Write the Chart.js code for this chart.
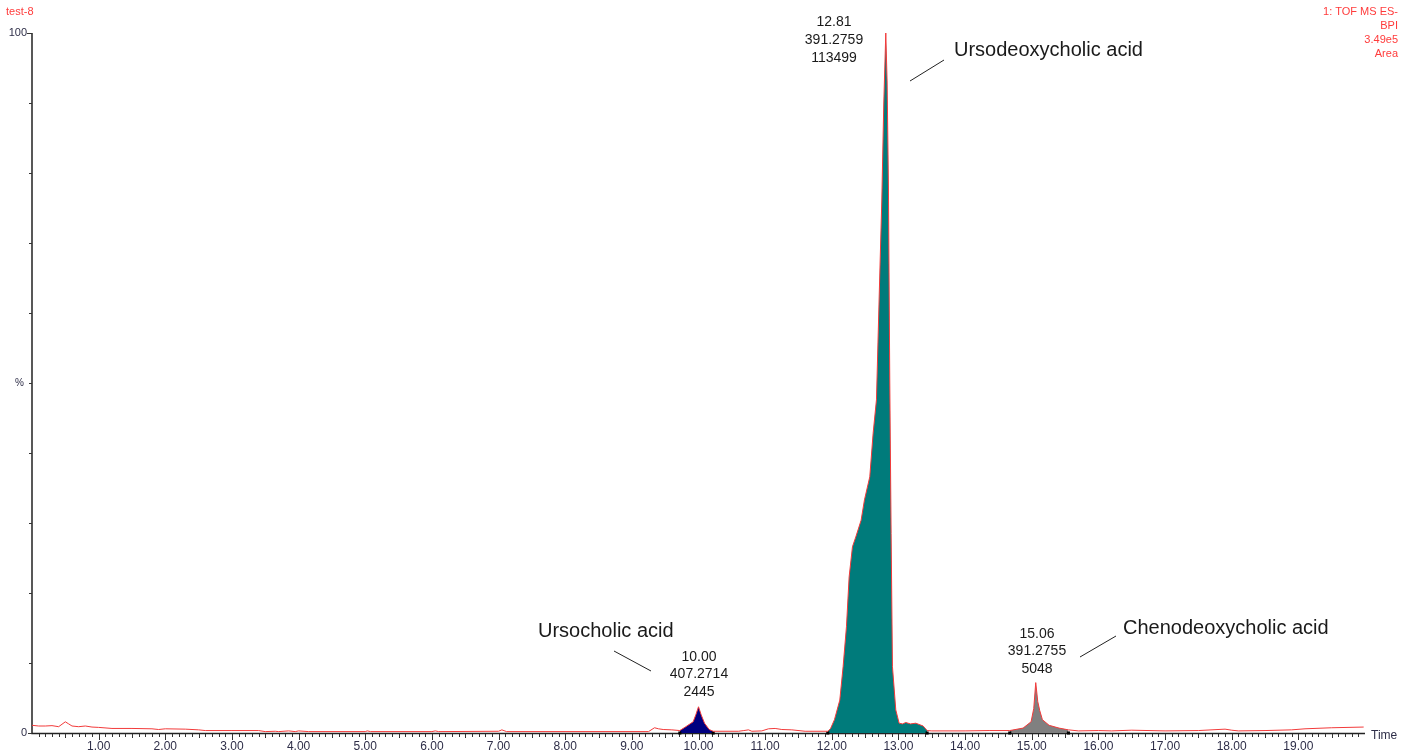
<!DOCTYPE html>
<html>
<head>
<meta charset="utf-8">
<script src="https://cdn.jsdelivr.net/npm/chart.js@4.4.0/dist/chart.umd.min.js"></script>
<style>
html,body{margin:0;padding:0;background:#fff;}
#wrap{width:1411px;height:755px;position:relative;}
</style>
</head>
<body>
<div id="wrap"><canvas id="c" width="1411" height="755"></canvas></div>
<script>
// ---- data (time in minutes, intensity in %) ----
const traceTime = [0.00,0.10,0.20,0.30,0.40,0.50,0.55,0.60,0.70,0.80,0.90,1.00,1.20,1.50,1.80,1.90,2.00,2.30,2.50,2.60,3.00,3.40,3.50,3.65,3.70,3.85,3.95,4.00,4.15,5.00,5.03,5.08,6.00,6.05,6.10,7.00,7.05,7.12,9.25,9.34,9.40,9.47,9.60,9.72,9.81,9.92,9.96,10.00,10.04,10.09,10.16,10.22,10.60,10.68,10.75,10.80,10.95,11.05,11.15,11.25,11.40,11.60,11.94,11.98,12.04,12.12,12.17,12.22,12.26,12.31,12.36,12.44,12.49,12.57,12.62,12.67,12.71,12.75,12.78,12.81,12.83,12.85,12.87,12.89,12.91,12.96,13.01,13.06,13.11,13.18,13.26,13.37,13.43,13.50,14.00,14.36,14.67,14.87,14.99,15.03,15.06,15.09,15.12,15.16,15.26,15.41,15.55,15.70,16.00,16.20,16.50,17.00,17.50,17.90,18.00,18.10,18.50,18.90,19.10,19.50,19.98];
const traceIntensity = [1.1,1.0,1.0,1.05,0.9,1.6,1.3,1.0,0.9,1.0,0.85,0.8,0.65,0.65,0.6,0.5,0.6,0.55,0.45,0.35,0.35,0.35,0.2,0.25,0.2,0.3,0.2,0.3,0.2,0.2,0.3,0.2,0.2,0.3,0.2,0.25,0.45,0.2,0.2,0.75,0.6,0.5,0.45,0.35,0.9,1.6,2.6,3.75,2.6,1.4,0.5,0.25,0.25,0.35,0.45,0.25,0.3,0.6,0.65,0.5,0.45,0.25,0.25,0.6,1.9,4.7,9.5,15.2,22.3,26.6,28.0,30.4,33.3,36.6,42.8,47.6,62.0,76.0,90.0,100.0,93.0,78.0,50.0,28.5,9.5,3.3,1.4,1.3,1.5,1.3,1.4,1.0,0.35,0.3,0.3,0.35,0.35,0.7,1.6,3.5,7.2,4.5,3.2,1.9,1.1,0.7,0.45,0.3,0.35,0.3,0.4,0.3,0.35,0.55,0.4,0.3,0.35,0.45,0.6,0.75,0.85];

const peakNames = ['Ursocholic acid','Ursodeoxycholic acid','Chenodeoxycholic acid'];
const peakRT = ['10.00','12.81','15.06'];
const peakMass = ['407.2714','391.2759','391.2755'];
const peakArea = ['2445','113499','5048'];
const peakStart = [9.72,11.94,14.67];
const peakEnd = [10.22,13.43,15.55];
const peakColors = ['#000080','#007b7b','#808080'];

const xTickLabels = ['1.00','2.00','3.00','4.00','5.00','6.00','7.00','8.00','9.00','10.00','11.00','12.00','13.00','14.00','15.00','16.00','17.00','18.00','19.00'];
const yTickLabels = ['0','100'];

// ---- build datasets ----
const tracePts = traceTime.map((t,i)=>({x:t,y:traceIntensity[i]}));
const datasets = [{
  data: tracePts, borderColor:'#f23a3a', borderWidth:1, pointRadius:0, fill:false, tension:0, clip:false
}];
const markerPts = [];
peakStart.forEach((s,k)=>{
  const e = peakEnd[k];
  const pts = tracePts.filter(p=>p.x>=s-1e-6 && p.x<=e+1e-6);
  datasets.push({data:pts, borderWidth:0, borderColor:'rgba(0,0,0,0)', backgroundColor:peakColors[k], fill:'origin', pointRadius:0, tension:0, clip:false});
  markerPts.push({x:s,y:0},{x:e,y:0});
});
datasets.splice(1,0,{data:markerPts, showLine:false, pointStyle:'rect', pointRadius:2.2, pointBackgroundColor:'#000', pointBorderColor:'#000', pointBorderWidth:0, clip:false});

const FONT = '"Liberation Sans", Arial, sans-serif';

const deco = {
  id:'deco',
  beforeDatasetsDraw(chart){
    const ctx = chart.ctx, xs = chart.scales.x, ys = chart.scales.y;
    const x0 = xs.getPixelForValue(0), y0 = ys.getPixelForValue(0), yTop = ys.getPixelForValue(100);
    const xEnd = xs.getPixelForValue(20);
    ctx.save();
    ctx.strokeStyle = '#222';
    ctx.lineWidth = 1.5;
    ctx.beginPath();
    ctx.moveTo(x0, yTop); ctx.lineTo(x0, y0+0.5); ctx.lineTo(xEnd, y0+0.5);
    ctx.stroke();
    // x ticks
    ctx.lineWidth = 1;
    ctx.strokeStyle = '#333';
    for (let i=1;i<200;i++){
      const t = i/10;
      const px = Math.round(xs.getPixelForValue(t))+0.5;
      const len = (i%10===0)?6:((i%5===0)?4:3);
      ctx.beginPath(); ctx.moveTo(px,y0+1); ctx.lineTo(px,y0+1+len); ctx.stroke();
    }
    // y ticks
    for (let v=10; v<=100; v+=10){
      const py = Math.round(ys.getPixelForValue(v))+0.5;
      const len = (v===100)?5:3;
      ctx.beginPath(); ctx.moveTo(x0-len,py); ctx.lineTo(x0,py); ctx.stroke();
    }
    ctx.beginPath(); ctx.moveTo(x0-4,Math.round(y0)+0.5); ctx.lineTo(x0,Math.round(y0)+0.5); ctx.stroke();
    // x labels
    ctx.fillStyle = '#2e2e48';
    ctx.font = '12px '+FONT;
    ctx.textAlign = 'center'; ctx.textBaseline='middle';
    xTickLabels.forEach(l=>{
      ctx.fillText(l, xs.getPixelForValue(parseFloat(l)), y0+14);
    });
    ctx.textAlign='left';
    ctx.fillText('Time', xEnd+6, y0+3);
    // y labels
    ctx.font = '11px '+FONT;
    ctx.textAlign = 'right';
    ctx.fillText(yTickLabels[1], x0-5, yTop);
    ctx.fillText(yTickLabels[0], x0-5, y0);
    ctx.font = '10px '+FONT;
    ctx.fillText('%', x0-8, ys.getPixelForValue(50));
    ctx.restore();
  },
  afterDraw(chart){
    const ctx = chart.ctx;
    ctx.save();
    // header texts
    ctx.fillStyle = '#ff3b3b';
    ctx.font = '11px '+FONT;
    ctx.textBaseline='middle';
    ctx.textAlign='left';
    ctx.fillText('test-8', 6, 12);
    ctx.textAlign='right';
    ['1: TOF MS ES-','BPI','3.49e5','Area'].forEach((s,i)=>ctx.fillText(s, 1398, 12+i*14));
    // peak labels
    ctx.fillStyle='#1a1a1a';
    ctx.textAlign='center';
    ctx.font='14px '+FONT;
    const labelPos = [[699,657],[834,22],[1037,634]];
    const lh = [17.5,18,17.5];
    labelPos.forEach((p,k)=>{
      ctx.fillText(peakRT[k], p[0], p[1]);
      ctx.fillText(peakMass[k], p[0], p[1]+lh[k]);
      ctx.fillText(peakArea[k], p[0], p[1]+2*lh[k]);
    });
    // compound names
    ctx.font='20px '+FONT;
    ctx.textAlign='left';
    const namePos = [[538,631],[954,50],[1123,628]];
    namePos.forEach((p,k)=>ctx.fillText(peakNames[k], p[0], p[1]));
    // leader lines
    ctx.strokeStyle='#222'; ctx.lineWidth=1;
    [[614,651,651,671],[910,81,944,60],[1080,657,1116,636]].forEach(l=>{
      ctx.beginPath(); ctx.moveTo(l[0],l[1]); ctx.lineTo(l[2],l[3]); ctx.stroke();
    });
    ctx.restore();
  }
};

new Chart(document.getElementById('c'), {
  type:'line',
  data:{datasets},
  options:{
    responsive:false, animation:false,
    layout:{padding:{left:32,top:33,right:46,bottom:22}},
    scales:{
      x:{type:'linear',min:0,max:20,display:false},
      y:{type:'linear',min:0,max:100,display:false}
    },
    plugins:{legend:{display:false},tooltip:{enabled:false}},
    elements:{point:{radius:0}}
  },
  plugins:[deco]
});
</script>
</body>
</html>
